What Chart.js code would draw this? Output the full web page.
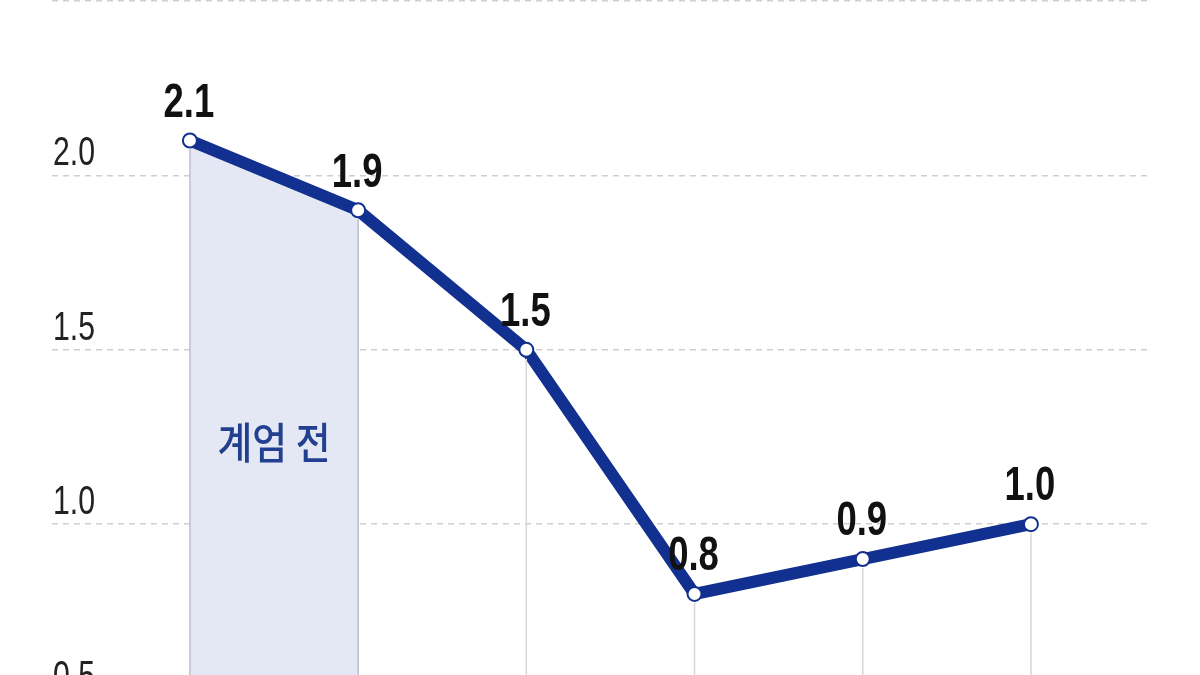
<!DOCTYPE html>
<html>
<head>
<meta charset="utf-8">
<script src="https://cdn.jsdelivr.net/npm/chart.js@4"></script>
<style>
  html, body { margin: 0; padding: 0; background: #fff; overflow: hidden; }
  #wrap { position: absolute; left: 0; top: -8.5px; width: 1200px; height: 890px; }
</style>
</head>
<body>
<div id="wrap"><canvas id="line-chart"></canvas></div>
<script>
// 월별 수치 (계엄 전 구간 포함)
const xIndex = [0, 1, 2, 3, 4, 5];
const values = [2.1, 1.9, 1.5, 0.8, 0.9, 1.0];
const yTicks = [0, 0.5, 1.0, 1.5, 2.0, 2.5];
const yLabels = ['0.0', '0.5', '1.0', '1.5', '2.0', ''];
const beforeLabel = '계엄 전';
const beforeRange = [0, 1];

const navy = '#12308f';
const sans = '"Liberation Sans", Arial, sans-serif';

const ctx = document.getElementById('line-chart').getContext('2d');

// 좁은 글꼴처럼 보이도록 가로로 눌러서 그림
const squeezedText = (c, text, x, y, sx) => {
    c.save();
    c.translate(x, y);
    c.scale(sx, 1);
    c.fillText(text, 0, 0);
    c.restore();
};

const overlay = {
    id: 'overlay',
    beforeDatasetsDraw(chart) {
        const c = chart.ctx;
        const y = chart.scales.y;
        const left = chart.chartArea.left;
        c.save();
        c.fillStyle = '#222';
        c.font = '40px ' + sans;
        c.textAlign = 'left';
        c.textBaseline = 'alphabetic';
        yTicks.forEach((v, k) => {
            if (yLabels[k]) squeezedText(c, yLabels[k], left + 1, y.getPixelForValue(v) - 10, 0.755);
        });
        c.restore();
    },
    afterDatasetsDraw(chart) {
        const c = chart.ctx;
        const x = chart.scales.x, y = chart.scales.y;
        const bottom = chart.chartArea.bottom;
        c.save();
        // 각 지점에서 아래로 내려오는 세로선
        c.lineWidth = 1.5;
        xIndex.forEach((i, k) => {
            const inBefore = i >= beforeRange[0] && i <= beforeRange[1];
            c.strokeStyle = inBefore ? '#b9bfcc' : '#d6d6d6';
            const px = x.getPixelForValue(i);
            c.beginPath();
            c.moveTo(px, y.getPixelForValue(values[k]) + 9);
            c.lineTo(px, bottom);
            c.stroke();
        });
        // 계엄 전 텍스트
        const mx = (x.getPixelForValue(beforeRange[0]) + x.getPixelForValue(beforeRange[1])) / 2;
        c.fillStyle = '#233f8f';
        c.font = '500 43px "Noto Sans CJK KR", sans-serif';
        c.textAlign = 'center';
        c.textBaseline = 'middle';
        squeezedText(c, beforeLabel, mx, y.getPixelForValue(1.235), 0.88);
        // 값 라벨
        c.fillStyle = '#111';
        c.font = 'bold 48px ' + sans;
        xIndex.forEach((i, k) => {
            squeezedText(c, values[k].toFixed(1), x.getPixelForValue(i) - 1, y.getPixelForValue(values[k]) - 37, 0.76);
        });
        c.restore();
    }
};

new Chart(ctx, {
    type: 'line',
    data: {
        datasets: [{
            data: xIndex.map((i, k) => ({ x: i, y: values[k] })),
            borderColor: navy,
            borderWidth: 12,
            pointRadius: 7,
            pointBorderWidth: 2,
            pointBackgroundColor: '#fff',
            pointBorderColor: navy,
            fill: false,
            tension: 0,
            order: 1
        }, {
            data: beforeRange.map(i => ({ x: i, y: values[i] })),
            borderWidth: 0,
            pointRadius: 0,
            backgroundColor: '#e4e8f4',
            fill: 'start',
            tension: 0,
            order: 2
        }]
    },
    options: {
        responsive: true,
        maintainAspectRatio: false,
        animation: false,
        layout: { padding: { left: 52, right: 53, top: 0, bottom: 0 } },
        plugins: { legend: { display: false }, tooltip: { enabled: false } },
        scales: {
            x: {
                type: 'linear',
                min: -0.82,
                max: 5.69,
                display: false
            },
            y: {
                min: 0,
                max: 2.5,
                afterBuildTicks: (axis) => { axis.ticks = yTicks.map(v => ({ value: v })); },
                grid: {
                    color: '#cfcfcf',
                    lineWidth: 1.5,
                    drawTicks: false
                },
                border: { display: false, dash: [6, 5] },
                ticks: { display: false }
            }
        }
    },
    plugins: [overlay]
});
</script>
</body>
</html>
